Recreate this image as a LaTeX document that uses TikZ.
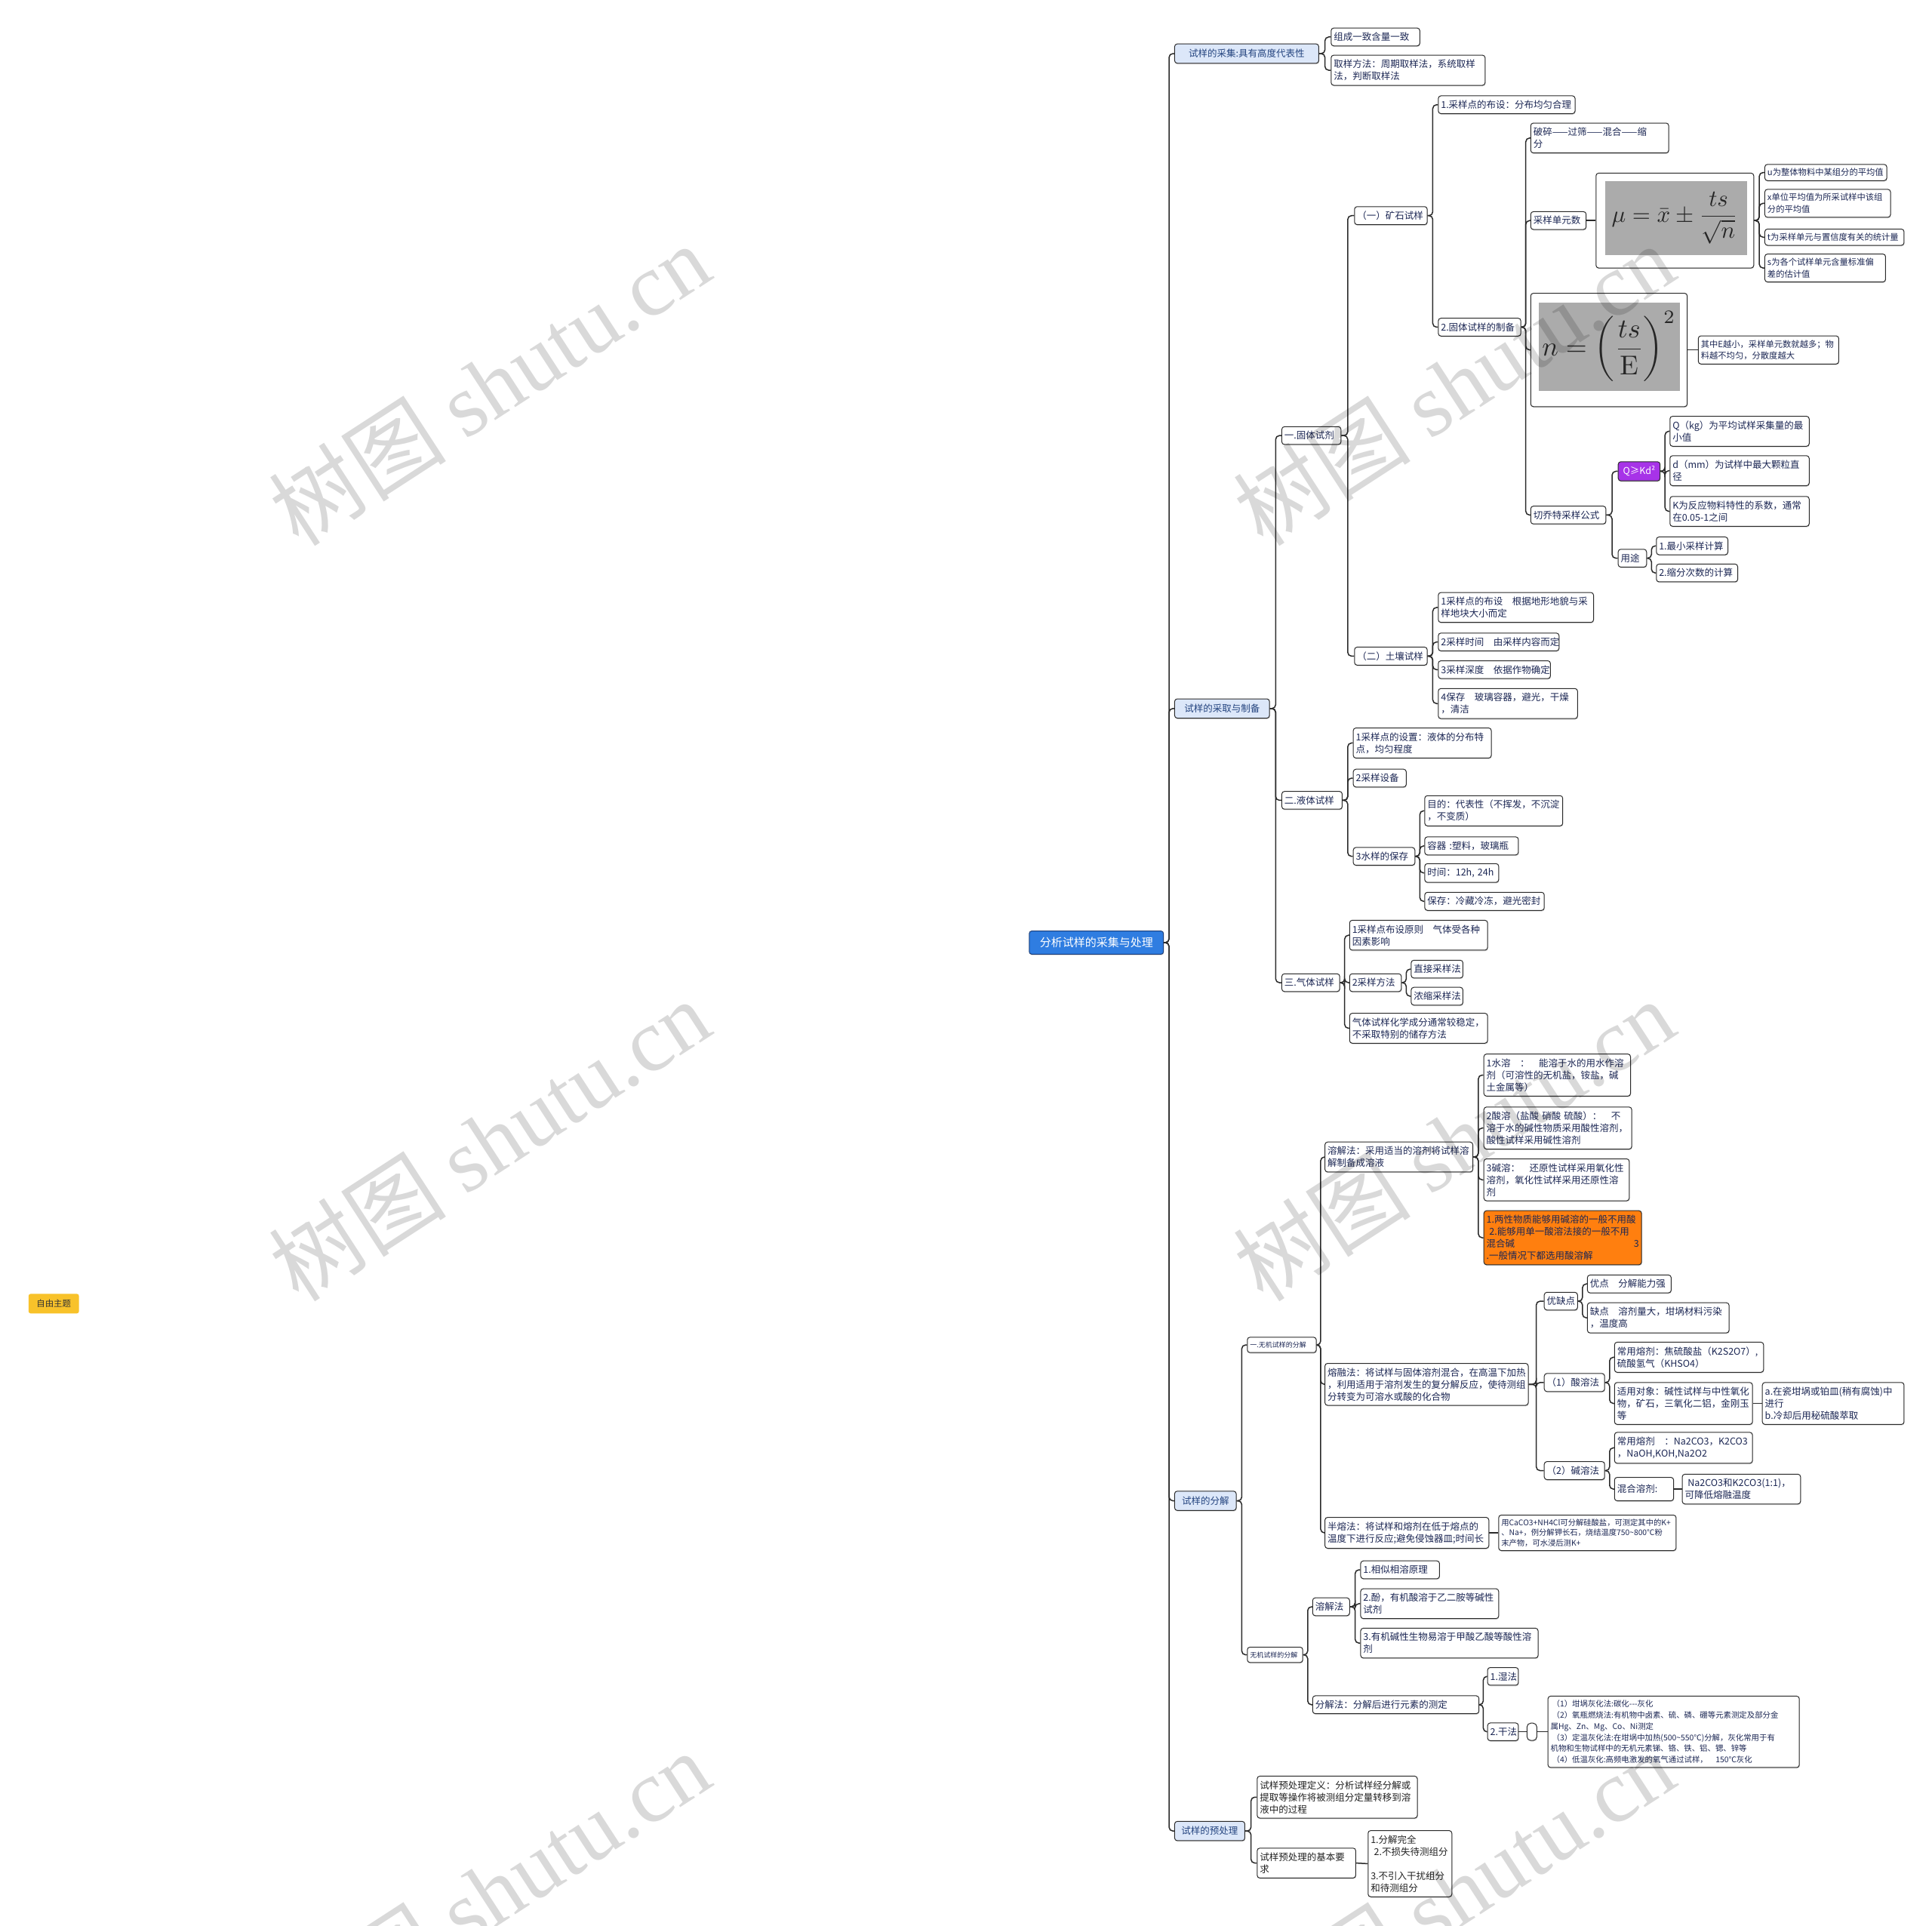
\documentclass[tikz,border=0pt]{standalone}
\usepackage{graphicx}
\usepackage[no-math]{fontspec}
\setmainfont{Noto Sans CJK SC}
\newfontfamily\wmlatin{Liberation Serif}
\usetikzlibrary{calc,shadows}
\definecolor{navy}{HTML}{1C2754}
\definecolor{lvltext}{HTML}{24447F}
\definecolor{bord}{HTML}{2A2A2A}
\definecolor{lvlone}{HTML}{DCE7F9}
\definecolor{rootblue}{HTML}{2F7DE1}
\definecolor{rootbord}{HTML}{1D3F7A}
\definecolor{imggray}{HTML}{ABABAB}
\definecolor{orangebox}{HTML}{FF7F0F}
\definecolor{purplebox}{HTML}{A733E8}
\definecolor{yellowbox}{HTML}{F8C22A}
\definecolor{pretext}{HTML}{222222}
\tikzset{
  box/.style={draw=bord, line width=1pt, fill=white, rounded corners=3.5pt,
    inner xsep=3.5pt, inner ysep=6pt, align=left, text=navy,
    font=\fontsize{12.5}{16}\selectfont,
    drop shadow={shadow xshift=0.5pt, shadow yshift=-1.3pt, opacity=0.35}},
  smallfont/.style={font=\fontsize{11.3}{15.5}\selectfont, inner ysep=5.5pt},
  tenfont/.style={font=\fontsize{10.3}{13.6}\selectfont, inner ysep=5pt},
  tinyfont/.style={font=\fontsize{9}{12}\selectfont},
  lvl/.style={fill=lvlone, text=lvltext, align=center, inner ysep=7pt},
  rootnode/.style={fill=rootblue, draw=rootbord, text=white, align=center,
    font=\fontsize{15}{18}\selectfont, inner ysep=8.5pt},
  orangefill/.style={fill=orangebox},
  purplefill/.style={fill=purplebox, text=white, align=center},
  prenode/.style={text=pretext},
  imgbox/.style={draw=bord, line width=1pt, fill=white, rounded corners=3.5pt,
    inner sep=0pt, anchor=west,
    drop shadow={shadow xshift=0.5pt, shadow yshift=-1.3pt, opacity=0.35}},
  conn/.style={draw=bord, line width=1.5pt, rounded corners=5pt},
  wm/.style={text=black, opacity=0.15, font=\fontsize{118}{118}\selectfont,
    rotate=33, inner sep=0pt},
}
\newcommand\nd[6][]{%
  \pgfmathsetmacro\tw{#5*1.6327-7}%
  \node[box,text width=\tw pt,anchor=west,#1] (#2) at (#3,#4) {#6};}
\newcommand\cn[2]{\draw[conn] (#1.east) -- ($(#1.east)!0.5!(#1.east -| #2.west)$) |- (#2.west);}
\newcommand\cs[2]{\draw[conn] (#1.east) -- (#2.west);}
\begin{document}
\begin{tikzpicture}[x=1.6327pt,y=-1.6327pt]
\fill[white] (0,0) rectangle (1568,1562.5);
\useasboundingbox (0,0) rectangle (1568,1562.5);

% root and level 1
\nd[rootnode]{root}{835}{765}{109}{分析试样的采集与处理}
\nd[lvl]{a1}{953}{43.5}{117}{试样的采集:具有高度代表性}
\nd[lvl]{a2}{953}{575}{77}{试样的采取与制备}
\nd[lvl]{a3}{953}{1218}{50}{试样的分解}
\nd[lvl]{a4}{953}{1486}{57}{试样的预处理}

% 采集
\nd{b1}{1080}{30}{72}{组成一致含量一致}
\nd{b2}{1080}{57}{125}{取样方法：周期取样法，系统取样\\法，判断取样法}

% 采取与制备
\nd{c1}{1040}{353.5}{48}{一.固体试剂}
\nd{c2}{1040}{649.5}{49}{二.液体试样}
\nd{c3}{1040}{797.5}{47}{三.气体试样}

\nd{d1}{1099}{175}{59}{（一）矿石试样}
\nd{d2}{1099}{532.5}{59}{（二）土壤试样}

\nd{e1}{1167}{85}{111}{1.采样点的布设：分布均匀合理}
\nd{e2}{1167}{265.5}{67}{2.固体试样的制备}

\nd{f1}{1242}{112}{112}{破碎——过筛——混合——缩\\分}
\nd{f2}{1242}{179}{45}{采样单元数}
\node[imgbox, minimum width=207.4pt, minimum height=150.2pt] (nimg) at (1242,284) {};
\nd{f4}{1242}{418}{61}{切乔特采样公式}

\node[imgbox, minimum width=209pt, minimum height=125.7pt] (mu) at (1295,179) {};
\fill[imggray] ($(mu.north west)+(8,7)$) rectangle ($(mu.south east)+(-6,-11)$);
\node[text=black!85] at ($(mu.center)+(0,-2)$) {\scalebox{3.1}{$\displaystyle \mu=\bar{x}\pm\frac{ts}{\sqrt{n}}$}};
\fill[imggray] ($(nimg.north west)+(7,8)$) rectangle ($(nimg.south east)+(-6,-13)$);
\node[text=black!85] at ($(nimg.center)+(0,-3)$) {\scalebox{3.6}{$\displaystyle n=\left(\frac{ts}{\mathrm{E}}\right)^{2}$}};

\nd[smallfont]{g1}{1432}{140}{99}{u为整体物料中某组分的平均值}
\nd[smallfont]{g2}{1432}{165}{102}{x单位平均值为所采试样中该组\\分的平均值}
\nd[smallfont]{g3}{1432}{192.5}{113}{t为采样单元与置信度有关的统计量}
\nd[smallfont]{g4}{1432}{217.5}{98}{s为各个试样单元含量标准偏\\差的估计值}

\nd[smallfont]{h1}{1378}{284}{114}{其中E越小，采样单元数就越多；物\\料越不均匀，分散度越大}

\nd[purplefill]{i1}{1313}{382.5}{34}{Q≥Kd²}
\nd{i2}{1313}{453}{23}{用途}

\nd{j1}{1355}{350}{113}{Q（kg）为平均试样采集量的最\\小值}
\nd{j2}{1355}{382}{113}{d（mm）为试样中最大颗粒直\\径}
\nd{j3}{1355}{415}{113}{K为反应物料特性的系数，通常\\在0.05-1之间}

\nd{k1}{1344}{443}{58}{1.最小采样计算}
\nd{k2}{1344}{465}{66}{2.缩分次数的计算}

\nd{l1}{1167}{493}{126}{1采样点的布设　根据地形地貌与采\\样地块大小而定}
\nd{l2}{1167}{521}{98}{2采样时间　由采样内容而定}
\nd{l3}{1167}{543.5}{91}{3采样深度　依据作物确定}
\nd{l4}{1167}{571}{113}{4保存　玻璃容器，避光，干燥\\，清洁}

\nd{m1}{1098}{603}{112}{1采样点的设置：液体的分布特\\点，均匀程度}
\nd{m2}{1098}{631.5}{43}{2采样设备}
\nd{m3}{1098}{695}{50}{3水样的保存}

\nd{n1}{1156}{658}{112}{目的：代表性（不挥发，不沉淀\\，不变质）}
\nd{n2}{1156}{686.5}{76}{容器 :塑料，玻璃瓶}
\nd{n3}{1156}{708.5}{60}{时间：12h, 24h}
\nd{n4}{1156}{731.5}{97}{保存：冷藏冷冻，避光密封}

\nd{o1}{1095}{759}{112}{1采样点布设原则　气体受各种\\因素影响}
\nd{o2}{1095}{797.5}{42}{2采样方法}
\nd{o3}{1095}{834.5}{112}{气体试样化学成分通常较稳定，\\不采取特别的储存方法}
\nd{o21}{1145}{786.5}{42}{直接采样法}
\nd{o22}{1145}{808.5}{42}{浓缩采样法}

% 分解
\nd[tinyfont]{x1}{1012}{1091.5}{56}{一.无机试样的分解}
\nd[tinyfont]{x2}{1012}{1343}{45}{无机试样的分解}

\nd{p1}{1075}{939}{120}{溶解法：采用适当的溶剂将试样溶\\解制备成溶液}
\nd{p2}{1075}{1123.5}{165}{熔融法：将试样与固体溶剂混合，在高温下加热\\，利用适用于溶剂发生的复分解反应，使待测组\\分转变为可溶水或酸的化合物}
\nd{p3}{1075}{1244}{133}{半熔法：将试样和熔剂在低于熔点的\\温度下进行反应;避免侵蚀器皿;时间长}

\nd{q1}{1204}{872.5}{119}{1水溶　：　能溶于水的用水作溶\\剂（可溶性的无机盐，铵盐，碱\\土金属等）}
\nd{q2}{1204}{915.5}{120}{2酸溶（盐酸 硝酸 硫酸）：　不\\溶于水的碱性物质采用酸性溶剂，\\酸性试样采用碱性溶剂}
\nd{q3}{1204}{957.5}{118}{3碱溶：　还原性试样采用氧化性\\溶剂，氧化性试样采用还原性溶\\剂}
\nd[orangefill]{q4}{1204}{1004.5}{128}{1.两性物质能够用碱溶的一般不用酸\\\hspace*{0.3em}2.能够用单一酸溶法接的一般不用\\混合碱\hfill 3\\.一般情况下都选用酸溶解}

\nd{r0}{1253}{1056}{27}{优缺点}
\nd{s0}{1253}{1122}{49}{（1）酸溶法}
\nd{u0}{1253}{1193.5}{49}{（2）碱溶法}

\nd{r1}{1288}{1042}{68}{优点　分解能力强}
\nd{r2}{1288}{1069.5}{115}{缺点　溶剂量大，坩埚材料污染\\，温度高}

\nd{s1}{1310}{1101.5}{121}{常用熔剂：焦硫酸盐（K2S2O7）,\\硫酸氢气（KHSO4）}
\nd{s2}{1310}{1139}{112}{适用对象：碱性试样与中性氧化\\物，矿石，三氧化二铝，金刚玉\\等}
\nd{t1}{1430}{1139}{115}{a.在瓷坩埚或铂皿(稍有腐蚀)中\\进行\\b.冷却后用秘硫酸萃取}

\nd{u1}{1310}{1175}{112}{常用熔剂　：Na2CO3，K2CO3\\，NaOH,KOH,Na2O2}
\nd[minimum height=31pt]{u2}{1310}{1208.5}{48}{混合溶剂:}
\nd{u3}{1365}{1208.5}{96}{\hspace*{0.3em}Na2CO3和K2CO3(1:1)，\\可降低熔融温度}

\nd[tenfont]{p3c}{1216}{1244}{144}{用CaCO3+NH4Cl可分解硅酸盐，可测定其中的K+\\、Na+，例分解钾长石，烧结温度750\textasciitilde800℃粉\\末产物，可水浸后测K+}

\nd{v0}{1065}{1304}{30}{溶解法}
\nd{w0}{1065}{1383.5}{135}{分解法：分解后进行元素的测定}

\nd{v1}{1104}{1274}{64}{1.相似相溶原理}
\nd{v2}{1104}{1301.5}{112}{2.酚，有机酸溶于乙二胺等碱性\\试剂}
\nd{v3}{1104}{1333.5}{144}{3.有机碱性生物易溶于甲酸乙酸等酸性溶\\剂}

\nd{w1}{1207}{1360.5}{25}{1.湿法}
\nd{w2}{1207}{1405.5}{25}{2.干法}
\node[imgbox, minimum width=13pt, minimum height=23pt, rounded corners=5pt] (pill) at (1239,1405.5) {};
\nd[tenfont, font=\fontsize{10.4}{14.9}\selectfont]{dry}{1256}{1405.5}{204}{\hspace*{2pt}（1）坩埚灰化法:碳化-{}-{}-灰化\\\hspace*{2pt}（2）氧瓶燃烧法:有机物中卤素、硫、磷、硼等元素测定及部分金\\属Hg、Zn、Mg、Co、Ni测定\\\hspace*{2pt}（3）定温灰化法:在坩埚中加热(500\textasciitilde550℃)分解，灰化常用于有\\机物和生物试样中的无机元素锑、铬、铁、铝、锶、锌等\\\hspace*{2pt}（4）低温灰化:高频电激发的氧气通过试样，\quad 150℃灰化}

% 预处理
\nd[prenode]{pre1}{1020}{1458.5}{130}{试样预处理定义：分析试样经分解或\\提取等操作将被测组分定量转移到溶\\液中的过程}
\nd[prenode]{pre2}{1020}{1512}{80}{试样预处理的基本要\\求}
\nd[prenode]{pre3}{1110}{1512.5}{68}{1.分解完全\\\hspace*{0.35em}2.不损失待测组分\\\mbox{}\\3.不引入干扰组分\\和待测组分}

% free topic
\node[fill=yellowbox, rounded corners=3pt, text=black!80, font=\fontsize{11.4}{14}\selectfont,
  minimum width=41*1.6327pt, minimum height=26pt, inner sep=2pt, anchor=west] (free) at (23,1058) {自由主题};

% connectors
\foreach \c in {a1,a2,a3,a4} {\cn{root}{\c}}
\foreach \c in {b1,b2} {\cn{a1}{\c}}
\foreach \c in {c1,c2,c3} {\cn{a2}{\c}}
\foreach \c in {d1,d2} {\cn{c1}{\c}}
\foreach \c in {e1,e2} {\cn{d1}{\c}}
\foreach \c in {f1,f2,nimg,f4} {\cn{e2}{\c}}
\cs{f2}{mu}
\foreach \c in {g1,g2,g3,g4} {\cn{mu}{\c}}
\cs{nimg}{h1}
\foreach \c in {i1,i2} {\cn{f4}{\c}}
\foreach \c in {j1,j2,j3} {\cn{i1}{\c}}
\foreach \c in {k1,k2} {\cn{i2}{\c}}
\foreach \c in {l1,l2,l3,l4} {\cn{d2}{\c}}
\foreach \c in {m1,m2,m3} {\cn{c2}{\c}}
\foreach \c in {n1,n2,n3,n4} {\cn{m3}{\c}}
\foreach \c in {o1,o2,o3} {\cn{c3}{\c}}
\foreach \c in {o21,o22} {\cn{o2}{\c}}
\foreach \c in {x1,x2} {\cn{a3}{\c}}
\foreach \c in {p1,p2,p3} {\cn{x1}{\c}}
\foreach \c in {q1,q2,q3,q4} {\cn{p1}{\c}}
\foreach \c in {r0,s0,u0} {\cn{p2}{\c}}
\foreach \c in {r1,r2} {\cn{r0}{\c}}
\foreach \c in {s1,s2} {\cn{s0}{\c}}
\cs{s2}{t1}
\foreach \c in {u1,u2} {\cn{u0}{\c}}
\cs{u2}{u3}
\cs{p3}{p3c}
\foreach \c in {v0,w0} {\cn{x2}{\c}}
\foreach \c in {v1,v2,v3} {\cn{v0}{\c}}
\foreach \c in {w1,w2} {\cn{w0}{\c}}
\cs{w2}{pill}
\cs{pill}{dry}
\foreach \c in {pre1,pre2} {\cn{a4}{\c}}
\cs{pre2}{pre3}

% watermarks
\foreach \p in {(397,312),(1180,312),(397,925),(1180,925),(397,1535),(1180,1535)} {
  \node[wm] at \p {树图 {\wmlatin shutu.cn}};
}
\end{tikzpicture}
\end{document}
